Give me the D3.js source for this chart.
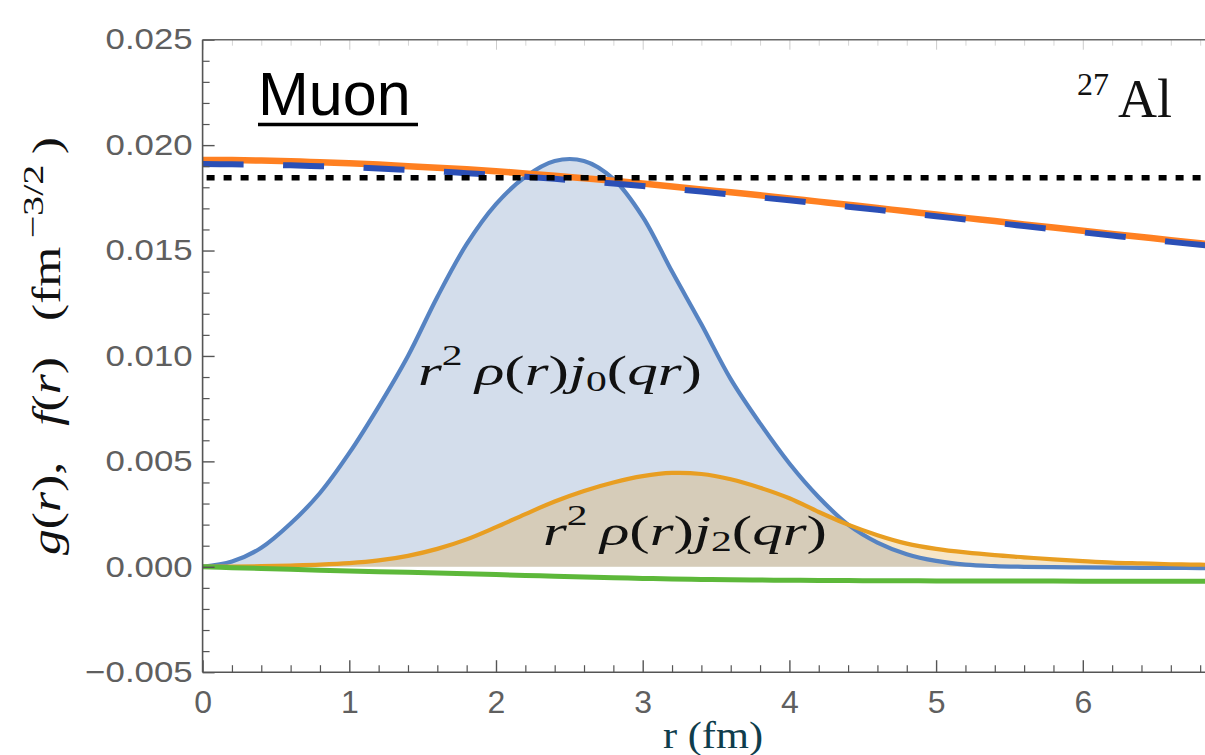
<!DOCTYPE html>
<html><head><meta charset="utf-8">
<script src="https://cdn.jsdelivr.net/npm/d3@7"></script>
<style>
html,body{margin:0;padding:0;background:#fff;}
svg{display:block;}
</style></head>
<body>
<script>
// ---------- data (values in units of 1e-3 fm^-3/2) ----------
const unit = 1e-3;
const rValues = [0,0.2,0.4,0.6,0.8,1.0,1.2,1.4,1.6,1.8,2.0,2.2,2.4,2.6,2.8,3.0,3.2,3.4,3.6,3.8,4.0,4.2,4.4,4.6,4.8,5.0,5.2,5.4,5.6,5.8,6.0,6.2,6.4,6.6,6.8,7.0];
const j0Integrand = [0,0.25,0.9,2.05,3.5,5.4,7.6,10.0,12.8,15.3,17.2,18.5,19.25,19.25,18.4,16.6,14.0,11.5,8.9,6.8,4.9,3.3,2.0,1.15,0.6,0.28,0.1,0.03,0.0,-0.02,-0.03,-0.04,-0.05,-0.05,-0.06,-0.06];
const j2Integrand = [0,0.01,0.03,0.06,0.1,0.17,0.3,0.52,0.85,1.3,1.88,2.5,3.1,3.6,4.0,4.3,4.45,4.4,4.15,3.75,3.25,2.6,2.0,1.5,1.1,0.85,0.68,0.55,0.45,0.35,0.27,0.2,0.16,0.12,0.1,0.08];
const gLarge = [19.3,19.29,19.27,19.23,19.19,19.14,19.08,19.0,18.93,18.85,18.76,18.66,18.55,18.43,18.31,18.18,18.04,17.9,17.76,17.62,17.47,17.32,17.17,17.02,16.86,16.71,16.55,16.4,16.24,16.09,15.94,15.79,15.64,15.49,15.35,15.2];
const gDashed = [19.1,19.09,19.07,19.04,19.0,18.95,18.89,18.82,18.75,18.67,18.59,18.5,18.4,18.29,18.18,18.06,17.93,17.8,17.66,17.52,17.38,17.23,17.08,16.93,16.78,16.63,16.47,16.32,16.16,16.01,15.86,15.71,15.56,15.41,15.27,15.12];
const fSmall = [0,-0.04,-0.08,-0.12,-0.16,-0.2,-0.23,-0.26,-0.29,-0.33,-0.37,-0.41,-0.45,-0.49,-0.52,-0.55,-0.58,-0.6,-0.62,-0.63,-0.64,-0.65,-0.655,-0.66,-0.665,-0.67,-0.672,-0.675,-0.677,-0.68,-0.682,-0.684,-0.686,-0.688,-0.69,-0.69];
const constLevel = [18.45, 18.45];
const constR = [0, 7];
const xTicks = [0,1,2,3,4,5,6];
const xTickLabels = ["0","1","2","3","4","5","6"];
const yTicks = [-0.005,0,0.005,0.010,0.015,0.020,0.025];
const yTickLabels = ["\u22120.005","0.000","0.005","0.010","0.015","0.020","0.025"];

// ---------- layout ----------
const W = 1205, H = 755;
const svg = d3.select("body").append("svg").attr("width", W).attr("height", H);
const x = d3.scaleLinear().domain([0, 7]).range([202.6, 202.6 + 7*146.7]);
const y = d3.scaleLinear().domain([-0.005, 0.025]).range([672.2, 39.7]);
const x0 = x(0), yTop = y(0.025), yBot = y(-0.005);

svg.append("defs").append("clipPath").attr("id","plotclip")
  .append("rect").attr("x", x0).attr("y", yTop).attr("width", 1100).attr("height", yBot - yTop);

const series = arr => rValues.map((r,i) => ({r, v: arr[i]*unit}));
const line = d3.line().x(d => x(d.r)).y(d => y(d.v)).curve(d3.curveCatmullRom.alpha(0.5));
const area = d3.area().x(d => x(d.r)).y0(y(0)).y1(d => y(d.v)).curve(d3.curveCatmullRom.alpha(0.5));

const plot = svg.append("g").attr("clip-path","url(#plotclip)");

// fills
plot.append("path").datum(series(j0Integrand)).attr("d", area)
  .attr("fill", "#5E81B5").attr("fill-opacity", 0.27);
plot.append("path").datum(series(j2Integrand)).attr("d", area)
  .attr("fill", "#E19C24").attr("fill-opacity", 0.25);

// lines
plot.append("path").datum(series(j0Integrand)).attr("d", line)
  .attr("fill","none").attr("stroke","#5683C2").attr("stroke-width",4.2);
plot.append("path").datum(series(j2Integrand)).attr("d", line)
  .attr("fill","none").attr("stroke","#E89E22").attr("stroke-width",4.2);
plot.append("path").datum(series(fSmall)).attr("d", line)
  .attr("fill","none").attr("stroke","#5DB83A").attr("stroke-width",5);
plot.append("path").datum(series(gLarge)).attr("d", line)
  .attr("fill","none").attr("stroke","#FF8021").attr("stroke-width",6.5);
plot.append("path").datum(series(gDashed)).attr("d", line)
  .attr("fill","none").attr("stroke","#2B4FB6").attr("stroke-width",6)
  .attr("stroke-dasharray","41,39.5");
plot.append("path").datum(constR.map((r,i)=>({r, v: constLevel[i]*unit})))
  .attr("d", d3.line().x(d=>x(d.r)).y(d=>y(d.v)))
  .attr("fill","none").attr("stroke","#000").attr("stroke-width",5.5)
  .attr("stroke-dasharray","8,9").attr("stroke-dashoffset",13);

// ---------- axes / frame ----------
const axisColor = "#555";
const minorX = d3.range(0, 35.5).map(i => i*0.2).filter(v => Math.abs(v - Math.round(v)) > 1e-6);
const minorY = d3.range(-5, 25.5).map(i => i*0.001).filter(v => Math.abs(v*200 - Math.round(v*200)) > 1e-6);

// bottom
const gx = svg.append("g").attr("transform", `translate(0,${yBot})`)
  .call(d3.axisBottom(x).tickValues(xTicks).tickSize(-12).tickPadding(18.5)
        .tickFormat((d,i) => xTickLabels[i]));
gx.select(".domain").remove();
gx.selectAll(".tick line").attr("stroke", axisColor).attr("stroke-width",1.4);
gx.selectAll(".tick text").attr("font-family","'Liberation Sans', Arial, sans-serif")
  .attr("font-size",32).attr("fill","#5f5f5f");
svg.append("g").attr("transform", `translate(0,${yBot})`)
  .call(d3.axisBottom(x).tickValues(minorX).tickSize(-7).tickFormat(""))
  .call(g => g.select(".domain").remove())
  .selectAll(".tick line").attr("stroke", axisColor).attr("stroke-width",1.2);

// top (faint ticks)
svg.append("g").attr("transform", `translate(0,${yTop})`)
  .call(d3.axisTop(x).tickValues(xTicks).tickSize(-10).tickFormat(""))
  .call(g => g.select(".domain").remove())
  .selectAll(".tick line").attr("stroke", "#999").attr("stroke-opacity",0.5);
svg.append("g").attr("transform", `translate(0,${yTop})`)
  .call(d3.axisTop(x).tickValues(minorX).tickSize(-6).tickFormat(""))
  .call(g => g.select(".domain").remove())
  .selectAll(".tick line").attr("stroke", "#999").attr("stroke-opacity",0.4);

// left
const yLabelScale = 1.2;
const gy = svg.append("g").attr("transform", `translate(${x0},0)`)
  .call(d3.axisLeft(y).tickValues(yTicks).tickSize(-12).tickPadding(10)
        .tickFormat((d,i) => yTickLabels[i]));
gy.select(".domain").remove();
gy.selectAll(".tick line").attr("stroke", axisColor).attr("stroke-width",1.4);
gy.selectAll(".tick text").attr("font-family","'Liberation Sans', Arial, sans-serif")
  .attr("font-size",29).attr("fill","#5f5f5f")
  .attr("x", -10/yLabelScale).attr("transform", `scale(${yLabelScale},1)`);
svg.append("g").attr("transform", `translate(${x0},0)`)
  .call(d3.axisLeft(y).tickValues(minorY).tickSize(-7).tickFormat(""))
  .call(g => g.select(".domain").remove())
  .selectAll(".tick line").attr("stroke", axisColor).attr("stroke-width",1.2);

// frame lines
svg.append("line").attr("x1", x0).attr("x2", x0).attr("y1", yTop).attr("y2", yBot)
  .attr("stroke", axisColor).attr("stroke-width",1.6);
svg.append("line").attr("x1", x0).attr("x2", W+5).attr("y1", yBot).attr("y2", yBot)
  .attr("stroke", axisColor).attr("stroke-width",1.6);
svg.append("line").attr("x1", x0).attr("x2", W+5).attr("y1", yTop).attr("y2", yTop)
  .attr("stroke", "#666").attr("stroke-width",1.6);

// ---------- text helpers ----------
const serif = "'Liberation Serif', 'Times New Roman', serif";
function mathText(parent, parts, size) {
  const t = parent.append("text").attr("font-family", serif).attr("font-size", size).attr("fill","#111");
  parts.forEach(p => {
    const ts = t.append("tspan").text(p.t);
    if (p.i) ts.attr("font-style","italic");
    if (p.s) ts.attr("font-size", size*p.s);
    if (p.dy) ts.attr("dy", p.dy);
  });
  return t;
}
function fitTo(g, t, targetW) {
  const w = t.node().getBBox().width;
  t.attr("transform", `scale(${targetW/w},1)`);
}

// curve labels
const lab1 = svg.append("g").attr("transform","translate(418,385)");
const t1 = mathText(lab1, [
  {t:"r", i:1},{t:"2", s:0.68, dy:-20},{t:"\u2009", dy:20},{t:"\u03C1", i:1},{t:"("},{t:"r", i:1},{t:")"},
  {t:"j", i:1},{t:"0", s:0.68, dy:6},{t:"(", dy:-6},{t:"q", i:1},{t:"r", i:1},{t:")"}], 43);
fitTo(lab1, t1, 284);

const lab2 = svg.append("g").attr("transform","translate(543,545)");
const t2 = mathText(lab2, [
  {t:"r", i:1},{t:"2", s:0.68, dy:-20},{t:"\u2009", dy:20},{t:"\u03C1", i:1},{t:"("},{t:"r", i:1},{t:")"},
  {t:"j", i:1},{t:"2", s:0.68, dy:6},{t:"(", dy:-6},{t:"q", i:1},{t:"r", i:1},{t:")"}], 43);
fitTo(lab2, t2, 284);

// y axis label
const ylab = svg.append("g").attr("transform","translate(60,346) rotate(-90)");
const t3 = mathText(ylab, [
  {t:"g", i:1},{t:"("},{t:"r", i:1},{t:"),\u2002\u2009"},{t:"f", i:1},{t:"("},{t:"r", i:1},{t:")\u2002\u2009(fm"},
  {t:"\u2009\u22123/2", s:0.78, dy:-17},{t:"\u2009)", dy:17}], 39);
t3.attr("text-anchor","middle");
fitTo(ylab, t3, 418);

// x axis title
const xt = svg.append("g").attr("transform","translate(713,748)");
const t4 = xt.append("text").attr("font-family", serif).attr("font-size",38)
  .attr("fill","#0f3d4c").attr("text-anchor","middle").text("r (fm)");
fitTo(xt, t4, 100);

// Muon
svg.append("text").attr("x",258).attr("y",115).attr("font-family","'Liberation Sans', Arial, sans-serif")
  .attr("font-size",61).attr("fill","#000").text("Muon");
svg.append("line").attr("x1",258).attr("x2",418).attr("y1",124.5).attr("y2",124.5)
  .attr("stroke","#000").attr("stroke-width",3.5);

// 27Al
const al = svg.append("text").attr("x",1077).attr("y",117).attr("font-family", serif)
  .attr("font-size",54).attr("fill","#111");
al.append("tspan").attr("font-size",32).attr("dy",-22).text("27");
al.append("tspan").attr("dy",22).attr("dx",9).text("Al");
</script>
</body></html>
